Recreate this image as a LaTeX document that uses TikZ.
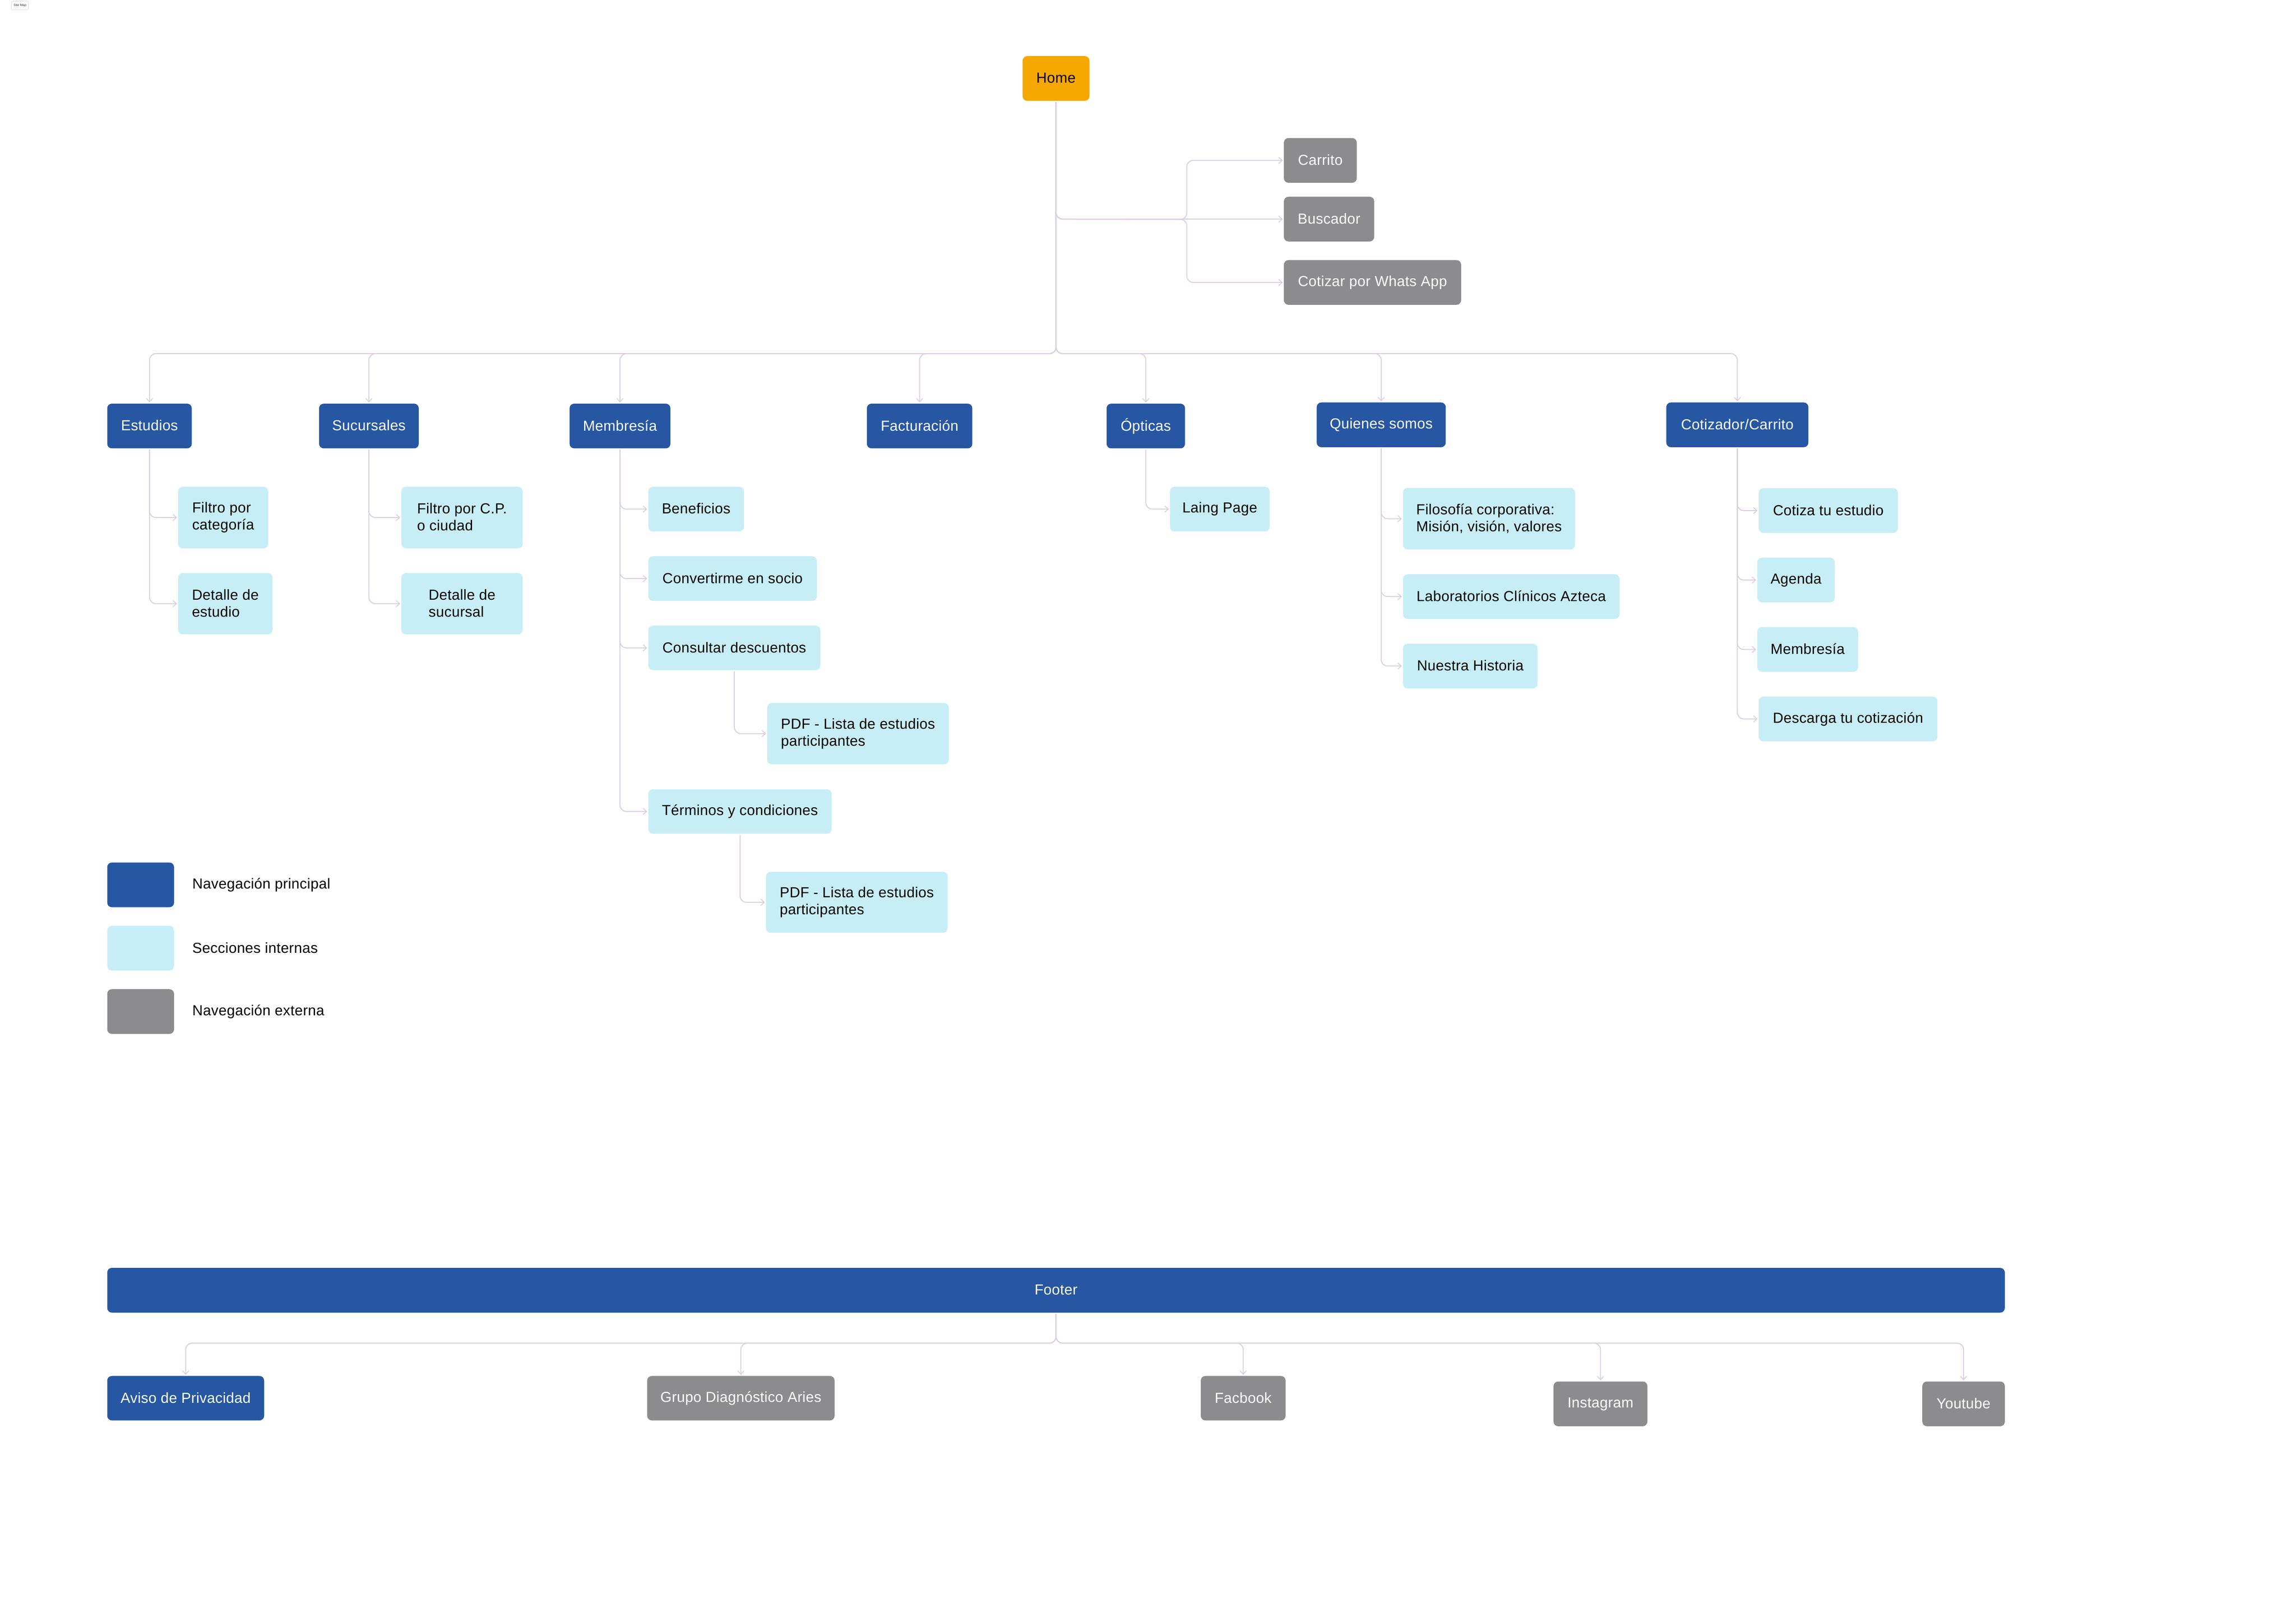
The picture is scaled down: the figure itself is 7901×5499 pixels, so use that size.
\documentclass[tikz,border=0pt]{standalone}
\usepackage{fontspec}
\setmainfont{Liberation Sans}[LetterSpace=1.2]
\usetikzlibrary{arrows.meta}
\definecolor{navblue}{HTML}{2757A2}
\definecolor{lightcy}{HTML}{C7EEF6}
\definecolor{extgrey}{HTML}{8C8C8E}
\definecolor{homeor}{HTML}{F5A800}
\definecolor{linec}{HTML}{DCCCE3}
\newcommand{\lineguard}{\rule[-1pt]{0pt}{10pt}}
\tikzset{
  basebox/.style={rounded corners=4pt,inner sep=0pt,align=left,font=\fontsize{12.5}{14.5}\selectfont,draw=none},
  navbox/.style={basebox,fill=navblue,text=white},
  subbox/.style={basebox,fill=lightcy,text=black},
  extbox/.style={basebox,fill=extgrey,text=white},
  homebox/.style={basebox,fill=homeor,text=black},
  mapbox/.style={basebox,fill=white,draw=black!22,line width=0.2pt,rounded corners=1pt,text=black!85,font=\fontsize{2.7}{3}\selectfont},
  legtext/.style={anchor=west,inner sep=0pt,font=\fontsize{12.5}{14.5}\selectfont,text=black},
  conn/.style={draw=linec,line width=0.8pt,rounded corners=5.5pt,-{Straight Barb[length=3pt,width=5.5pt,line width=0.7pt]},shorten >=0.8pt,shorten <=0.8pt}
}
\newcommand{\bx}[7]{%
  \pgfmathsetmacro{\cxx}{(#3+#5)/2}%
  \pgfmathsetmacro{\cyy}{(#4+#6)/2}%
  \pgfmathsetmacro{\wdd}{(#5-#3)*0.25}%
  \pgfmathsetmacro{\htt}{(#6-#4)*0.25}%
  \node[#1,minimum width=\wdd pt,minimum height=\htt pt] (#2) at (\cxx,\cyy) {\lineguard #7\lineguard};%
}
\begin{document}
\begin{tikzpicture}[x=0.25pt,y=-0.25pt]
\useasboundingbox[fill=white] (0,0) rectangle (7901,5499);
\node[mapbox,minimum width=14.25pt,minimum height=7.5pt] (sitemap) at (68.5,19) {Site Map};
\bx{homebox}{home}{3519}{193}{3749}{347}{Home}
\bx{extbox}{carrito}{4418}{475}{4669}{629}{Carrito}
\bx{extbox}{buscador}{4418}{677}{4729}{831}{Buscador}
\bx{extbox}{whats}{4418}{895}{5028}{1049}{Cotizar por Whats App}
\bx{navbox}{estudios}{369}{1389}{660}{1543}{Estudios}
\bx{navbox}{sucursales}{1098}{1389}{1441}{1543}{Sucursales}
\bx{navbox}{membresia}{1960}{1389}{2307}{1543}{Membresía}
\bx{navbox}{facturacion}{2983}{1389}{3346}{1543}{Facturación}
\bx{navbox}{opticas}{3808}{1389}{4078}{1543}{Ópticas}
\bx{navbox}{quienes}{4531}{1385}{4975}{1539}{Quienes somos}
\bx{navbox}{cotizador}{5734}{1385}{6223}{1539}{Cotizador/Carrito}
\bx{subbox}{filtrocat}{613}{1675}{923}{1887}{Filtro por\\categoría}
\bx{subbox}{detest}{613}{1972}{938}{2183}{Detalle de\\estudio}
\bx{subbox}{filtrocp}{1381}{1675}{1799}{1887}{Filtro por C.P.\\o ciudad}
\bx{subbox}{detsuc}{1381}{1972}{1799}{2183}{Detalle de\\sucursal}
\bx{subbox}{beneficios}{2231}{1675}{2560}{1829}{Beneficios}
\bx{subbox}{socio}{2231}{1914}{2811}{2068}{Convertirme en socio}
\bx{subbox}{descuentos}{2231}{2153}{2823}{2306}{Consultar descuentos}
\bx{subbox}{pdfa}{2640}{2419}{3265}{2630}{PDF - Lista de estudios\\participantes}
\bx{subbox}{terminos}{2231}{2716}{2862}{2869}{Términos y condiciones}
\bx{subbox}{pdfb}{2636}{3000}{3261}{3210}{PDF - Lista de estudios\\participantes}
\bx{subbox}{laing}{4026}{1675}{4369}{1829}{Laing Page}
\bx{subbox}{filosofia}{4828}{1679}{5420}{1891}{Filosofía corporativa:\\Misión, visión, valores}
\bx{subbox}{lab}{4828}{1976}{5573}{2130}{Laboratorios Clínicos Azteca}
\bx{subbox}{historia}{4828}{2215}{5291}{2369}{Nuestra Historia}
\bx{subbox}{cotiza}{6052}{1680}{6531}{1834}{Cotiza tu estudio}
\bx{subbox}{agenda}{6047}{1919}{6314}{2073}{Agenda}
\bx{subbox}{membdos}{6047}{2158}{6394}{2312}{Membresía}
\bx{subbox}{descarga}{6052}{2397}{6667}{2551}{Descarga tu cotización}
\bx{navbox}{legnav}{369}{2968}{599}{3122}{}
\bx{subbox}{legsec}{369}{3186}{599}{3340}{}
\bx{extbox}{legext}{369}{3404}{599}{3558}{}
\node[legtext] (tnav) at (661,3045) {\lineguard Navegación principal\lineguard};
\node[legtext] (tsec) at (661,3263) {\lineguard Secciones internas\lineguard};
\node[legtext] (text) at (661,3481) {\lineguard Navegación externa\lineguard};
\bx{navbox}{footer}{369}{4363}{6899}{4517}{Footer}
\bx{navbox}{aviso}{369}{4735}{909}{4888}{Aviso de Privacidad}
\bx{extbox}{grupo}{2227}{4735}{2872}{4888}{Grupo Diagnóstico Aries}
\bx{extbox}{facbook}{4132}{4735}{4424}{4888}{Facbook}
\bx{extbox}{instagram}{5346}{4754}{5669}{4908}{Instagram}
\bx{extbox}{youtube}{6615}{4754}{6899}{4908}{Youtube}
\coordinate (bus) at (3634,1217);
\coordinate (hub) at (4084,755);
\coordinate (fbus) at (3634,4622);
\foreach \t in {estudios,sucursales,membresia,facturacion,opticas,quienes,cotizador}
  \draw[conn] (home.south) -- (home.south |- bus) -- (\t.north |- bus) -- (\t.north);
\draw[conn] (home.south) -- (home.south |- buscador.west) -- (buscador.west);
\foreach \t in {carrito,whats}
  \draw[conn] (home.south) -- (home.south |- buscador.west) -- (hub) -- (hub |- \t.west) -- (\t.west);
\foreach \t in {aviso,grupo,facbook,instagram,youtube}
  \draw[conn] (footer.south) -- (footer.south |- fbus) -- (\t.north |- fbus) -- (\t.north);
\foreach \s/\t in {estudios/filtrocat,estudios/detest,sucursales/filtrocp,sucursales/detsuc,membresia/beneficios,membresia/socio,membresia/descuentos,membresia/terminos,descuentos/pdfa,terminos/pdfb,opticas/laing,quienes/filosofia,quienes/lab,quienes/historia,cotizador/cotiza,cotizador/agenda,cotizador/membdos,cotizador/descarga}
  \draw[conn] (\s.south) -- (\s.south |- \t.west) -- (\t.west);
\end{tikzpicture}
\end{document}
